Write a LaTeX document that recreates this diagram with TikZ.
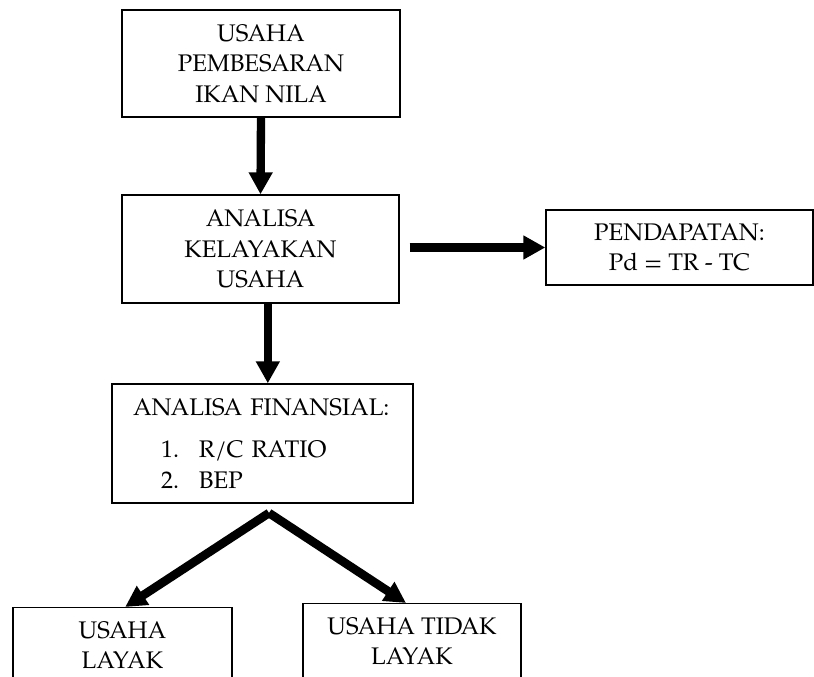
\documentclass[tikz,border=0pt]{standalone}
\usepackage{fontspec}
\setmainfont{TeX Gyre Pagella}
\usepackage{tikz}
\usetikzlibrary{calc}
\usetikzlibrary{arrows.meta}

\begin{document}
\begin{tikzpicture}[x=0.75pt,y=-0.75pt]
  \useasboundingbox (0,0) rectangle (814,677);
  \clip (0,0) rectangle (814,677);
  \coordinate (pUsaha) at (261,63.5);
  \coordinate (pAnalisa) at (260.5,249);
  \coordinate (pPendapatan) at (679.5,247.5);
  \coordinate (pFinansial) at (262.5,443.5);
  \coordinate (pLayak) at (122.5,607);
  \coordinate (pTidak) at (412,603);
  \coordinate (pPuncak) at (269,513);
  \tikzstyle{every node}=[draw, line width=1pt, inner sep=0pt, align=center,
    font=\fontsize{18}{22.8}\selectfont];
  \tikzstyle{flow}=[line width=6.25pt, -{Triangle[width=17pt,length=16.5pt]}];
  \tikzstyle{split}=[line width=6.5pt, -{Triangle[width=16pt,length=16pt]}];
  \node[minimum width=208.5pt, minimum height=80.25pt] (usaha) at (pUsaha)
    {USAHA\\PEMBESARAN\\IKAN NILA};
  \node[minimum width=207.75pt, minimum height=81pt] (analisa) at (pAnalisa)
    {ANALISA\\KELAYAKAN\\USAHA};
  \node[minimum width=200.25pt, minimum height=56.25pt] (pendapatan) at (pPendapatan)
    {PENDAPATAN:\\Pd = TR - TC};
  \node[minimum height=89.25pt, inner xsep=15.75pt, text width=194.25pt, align=left]
    (finansial) at (pFinansial)
    {ANALISA FINANSIAL:\\[8.5pt]
     \hspace*{21pt}\makebox[28.5pt][l]{1.}R/C RATIO\\
     \hspace*{21pt}\makebox[28.5pt][l]{2.}BEP};
  \node[anchor=north, minimum width=164.25pt, inner ysep=10pt, text depth=25pt]
    (layak) at (pLayak) {USAHA\\LAYAK};
  \node[anchor=north, minimum width=163.5pt, inner ysep=10pt, text depth=25pt]
    (tidak) at (pTidak) {USAHA TIDAK\\LAYAK};
  % arrows
  \draw[flow] (usaha.south) -- (analisa.north);
  \draw[flow] ([xshift=7.5pt]analisa.east |- pendapatan.west) -- (pendapatan.west);
  \draw[flow] ([xshift=5.5pt]analisa.south) -- ([xshift=5.5pt]analisa.south |- finansial.north);
  \draw[split] (pPuncak) -- ([xshift=2pt]layak.north);
  \draw[split] (pPuncak) -- ([xshift=-4.5pt]tidak.north);
\end{tikzpicture}
\end{document}
